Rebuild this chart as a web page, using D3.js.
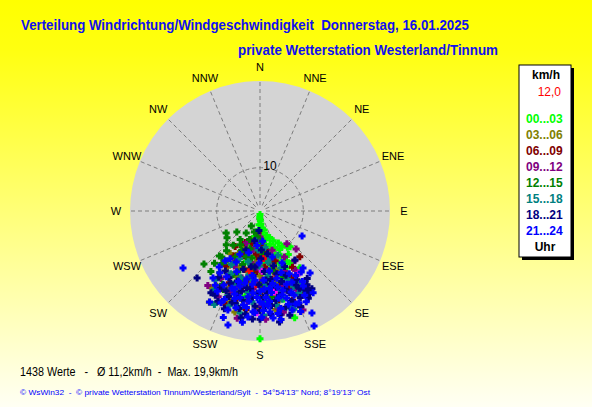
<!DOCTYPE html>
<html>
<head>
<meta charset="utf-8">
<script src="https://cdn.jsdelivr.net/npm/d3@7"></script>
<style>
  html, body { margin: 0; padding: 0; }
  svg { display: block; font-family: "Liberation Sans", Arial, sans-serif; }
</style>
</head>
<body>
<div id="chart"></div>
<script>
// direction labels, clockwise from north
const directions = ["N", "NNE", "NE", "ENE", "E", "ESE", "SE", "SSE",
  "S", "SSW", "SW", "WSW", "W", "WNW", "NW", "NNW"];
const ringValues = [10];
const hourLabels = ["00...03", "03...06", "06...09", "09...12", "12...15", "15...18", "18...21", "21...24"];
const hourColors = ["#00ff00", "#808000", "#800000", "#800080", "#008000", "#008080", "#000080", "#0000ff"];

// [direction in degrees, radial value], one array per hour class
const h00_03 = [[180,0.8],[182,1.5],[178,2.2],[176,3],[184,3.2],[172,4],[168,4.5],[188,4.8],[175,5.5],[165,5.8],
  [160,6.5],[170,6.8],[182,7],[156,7.5],[163,8],[150,8.5],[158,9],[148,9.6],[153,10],[143,10.5],[140,10.8],
  [167,10.2],[176,9],[186,8.5],[192,6],[196,8],[155,11.5],[147,12],[160,12.8],[170,13.5],[150,14],[162,15.5],
  [175,16],[185,14],[195,12],[200,16],[158,18],[170,19],[190,20],[180,29.5],[162,25.9],[157,19],[145,16],
  [165,21],[200,10],[205,13],[178,12],[171,8],[179,6],[166,9.5],[173,11],[185,10.5],[190,12.5],[152,13],
  [165,12],[180,10],[188,15],[168,17],[155,14.5],[183,5],[161,10.8],[174,7.5]];
const h03_06 = [[212,20.9],[209,24.1],[205,17],[200,14],[196,11],[190,9],[185,12],[180,15],[175,18],[170,20],
  [195,19],[210,15],[215,12],[203,9],[198,22],[188,17],[165,14],[160,19],[178,21],[192,14],[207,11],[182,23],
  [186,20],[176,13],[167,17],[202,19],[194,24],[171,23],[184,8],[210,20],[199,16],[160,23],[178,6.5],[191,7]];
const h06_09 = [[215,10],[210,12],[205,8],[200,11],[195,14],[190,16],[185,10],[175,13],[170,16],[165,18],
  [160,22],[155,17],[150,15],[180,19],[195,21],[203,18],[212,15],[188,23],[172,9],[163,12],[199,7],[183,14],
  [168,21],[157,24],[207,20],[139,14],[178,18],[186,13],[193,18],[200,23],[166,15],[159,19],[153,21],[174,21],
  [181,11],[192,9],[206,13],[170,12],[185,5],[195,7.5],[175,8],[168,11]];
const h09_12 = [[136.5,12.1],[140.7,9.8],[156.5,24.9],[169.5,22.8],[192,25.3],[145,14],[150,17],[155,20],
  [160,23],[165,15],[175,11],[185,18],[195,16],[205,14],[210,18],[215,21],[170,19],[180,22],[148,21],[200,20],
  [190,12],[178,16],[162,18],[152,12],[183,13],[172,14],[158,15],[198,18],[206,22],[188,21],[167,24],[177,25],
  [149,16],[195,10],[203,8],[180,6],[190,9],[163,9.5]];
const h12_15 = [[226.6,17.8],[220,12],[218,10],[215,8],[212,6],[210,9],[208,12],[222,14],[216,15],[205,10],
  [200,7],[195,9],[190,11],[213,17],[219,18],[198,13],[185,8],[175,10],[168,14],[160,16],[203,16],[207,19],
  [225,11],[210,4],[195,5],[180,17],[172,20],[155,19],[228,7.2],[231,9.8],[237,9.3],[219.6,13.8],
  [200,15],[193,17],[187,13],[178,14],[205,20],[197,11],[214,14],[221,16],[186,6],[178,7]];
const h15_18 = [[200,18],[195,20],[190,15],[185,21],[180,13],[175,17],[170,22],[165,19],[160,14],[155,21],
  [150,19],[205,16],[210,21],[198,23],[188,19],[178,24],[168,11],[183,9],[193,12],[158,17],[203,12],[173,15],
  [163,23],[213,19],[206,24],[193,22.7],[186,16],[176,21],[166,21],[156,19],[196,16],[201,21],[181,19],
  [171,12],[161,24],[191,24],[208,14],[151,21],[188,7],[172,8.5],[158,11]];
const h18_21 = [[223.2,21.2],[148.7,21.3],[150.6,20.7],[146.3,21.6],[147.5,20.2],[149,22.2],[144.5,13.9],
  [169.1,24.4],[200,21],[195,22],[190,18],[185,20],[180,23],[175,19],[170,21],[165,23],[160,20],[155,22],
  [152,18],[158,16],[163,17],[168,18],[173,22],[178,20],[183,22],[188,24],[193,19],[198,17],[203,20],[208,22],
  [212,18],[205,23],[210,16],[176,14],[186,15],[196,14],[166,13],[156,14],[181,17],[171,16],[191,21],[161,22],
  [151,23],[184,25],[174,24],[164,25],[154,19],[179,11],[189,13],[153,20],[157,24],[162,19],[167,20],[172,17],
  [177,22],[182,19],[187,18],[192,23],[197,22],[202,18],[207,20],[211,22],[200,24],[190,25],[180,25],[170,26],
  [160,22.5],[150,21.8],[145,19],[185,13],[175,16],[165,15],[195,20],[205,17],[190,7],[178,9],[200,9.5],
  [170,10],[183,4.5]];
const h21_24 = [[233.5,22.1],[215,18.9],[195.7,27.3],[186.5,24.6],[184,23.3],[174.3,23.4],[173,24.9],
  [153,26.4],[154.8,29.3],[157,23],[141.1,18.4],[143,16.5],[120.8,11.3],[200,19],[195,18],[190,22],[185,19],
  [180,21],[175,22],[170,17],[165,20],[160,18],[155,16],[150,20],[146,17],[152,22],[158,21],[163,21],[168,23],
  [172,19],[177,18],[182,20],[187,21],[192,17],[197,20],[202,22],[207,17],[212,13],[198,24],[188,20],[178,23],
  [162,24],[166,16],[176,20],[186,17],[196,21],[171,14],[181,12],[191,16],[201,15],[156,18],[161,15],[206,19],
  [211,20],[216,16],[180,18.5],[170,24],[184,16],[194,23],[164,19],[174,21],[159,23],[149,19],
  [153,23.5],[158,25],[163,22.5],[168,20.5],[173,18],[178,21.5],[183,23.5],[188,22.5],[193,20.5],[198,19],
  [203,23],[208,21],[213,17],[209,24],[199,26],[189,26],[179,24.5],[169,25.5],[159,20],[147,22.5],[151,17],
  [157,13],[167,18],[177,16],[187,15],[197,17],[205,13],[215,14],[185,8],[195,10],[175,7],[205,11],[165,11]];
// a few odd coloured points in the cloud
const extraMagenta = [[181.7,23.5],[178,13.9],[147.8,16.9],[170,19]];
const extraRed = [[190,14],[183,17],[176,11]];

const hourSeries = [h00_03, h03_06, h06_09, h09_12, h12_15, h15_18, h18_21, h21_24];

const W = 592, H = 407;
const cx = 260, cy = 211, R = 130;

const svg = d3.select("#chart").append("svg")
  .attr("width", W).attr("height", H);

const defs = svg.append("defs");
const grad = defs.append("linearGradient")
  .attr("id", "bg").attr("x1", 0).attr("y1", 0).attr("x2", 0).attr("y2", 1);
grad.append("stop").attr("offset", "0%").attr("stop-color", "#ffff00");
grad.append("stop").attr("offset", "12%").attr("stop-color", "#ffff10");
grad.append("stop").attr("offset", "100%").attr("stop-color", "#fffff4");

svg.append("rect").attr("width", W).attr("height", H).attr("fill", "url(#bg)");

// titles
svg.append("text")
  .attr("x", 21).attr("y", 30)
  .attr("fill", "#1010ee").attr("font-size", 14).attr("font-weight", "bold")
  .attr("textLength", 448).attr("lengthAdjust", "spacingAndGlyphs")
  .attr("xml:space", "preserve")
  .text("Verteilung Windrichtung/Windgeschwindigkeit  Donnerstag, 16.01.2025");
svg.append("text")
  .attr("x", 238).attr("y", 55)
  .attr("fill", "#1010ee").attr("font-size", 14).attr("font-weight", "bold")
  .attr("textLength", 260).attr("lengthAdjust", "spacingAndGlyphs")
  .text("private Wetterstation Westerland/Tinnum");

const r = d3.scaleLinear().domain([0, 30]).range([0, R]);
const ang = (deg) => deg * Math.PI / 180;

const g = svg.append("g").attr("transform", `translate(${cx},${cy})`);

g.append("circle").attr("r", R).attr("fill", "#d4d4d4");

// rings
g.selectAll(".ring").data(ringValues).join("circle")
  .attr("class", "ring")
  .attr("r", (d) => r(d))
  .attr("fill", "none").attr("stroke", "#7c7c7c")
  .attr("stroke-width", 1).attr("stroke-dasharray", "4,3");

// spokes
g.selectAll(".spoke").data(directions).join("line")
  .attr("class", "spoke")
  .attr("x1", (d, i) => d3.pointRadial(ang(i * 22.5), 6)[0])
  .attr("y1", (d, i) => d3.pointRadial(ang(i * 22.5), 6)[1])
  .attr("x2", (d, i) => d3.pointRadial(ang(i * 22.5), R)[0])
  .attr("y2", (d, i) => d3.pointRadial(ang(i * 22.5), R)[1])
  .attr("stroke", "#7c7c7c").attr("stroke-width", 1).attr("stroke-dasharray", "4,3");

g.selectAll(".ringlabel").data(ringValues).join("text")
  .attr("class", "ringlabel")
  .attr("x", 10).attr("y", (d) => -r(d) + 2)
  .attr("text-anchor", "middle")
  .attr("font-size", 12).attr("fill", "#000")
  .text((d) => d);

g.selectAll(".dirlabel").data(directions).join("text")
  .attr("class", "dirlabel")
  .attr("x", (d, i) => d3.pointRadial(ang(i * 22.5), 144)[0])
  .attr("y", (d, i) => d3.pointRadial(ang(i * 22.5), 144)[1] + 4)
  .attr("text-anchor", "middle")
  .attr("font-size", 11).attr("fill", "#000")
  .text((d) => d);

// points: chunky plus marker, 7px across
const marker = "M-1.5,-3.5h3v2h2v3h-2v2h-3v-2h-2v-3h2z";
const plot = (data, color) => {
  g.append("g").selectAll("path").data(data).join("path")
    .attr("d", marker)
    .attr("transform", (d) => {
      const [x, y] = d3.pointRadial(ang(d[0]), r(d[1]));
      return `translate(${x},${y})`;
    })
    .attr("fill", color);
};
hourSeries.forEach((s, i) => {
  plot(s, hourColors[i]);
  if (i === 5) { plot(extraMagenta, "#ff00ff"); plot(extraRed, "#ff0000"); }
});

// legend
const lx = 519, ly = 65, lw = 52, lh = 192;
svg.append("rect").attr("x", lx + 3).attr("y", ly + 3).attr("width", lw).attr("height", lh).attr("fill", "#000");
svg.append("rect").attr("x", lx).attr("y", ly).attr("width", lw).attr("height", lh)
  .attr("fill", "#fff").attr("stroke", "#000").attr("stroke-width", 1);

svg.append("text").attr("x", lx + lw / 2 + 1).attr("y", ly + 14)
  .attr("text-anchor", "middle").attr("font-size", 12).attr("font-weight", "bold").text("km/h");
svg.append("text").attr("x", lx + 42).attr("y", ly + 31)
  .attr("text-anchor", "end").attr("font-size", 12).attr("fill", "#ff0000").text("12,0");
svg.append("g").selectAll("text").data(hourLabels).join("text")
  .attr("x", lx + 7).attr("y", (d, i) => ly + 58 + i * 16)
  .attr("font-size", 12).attr("font-weight", "bold")
  .attr("fill", (d, i) => hourColors[i])
  .text((d) => d);
svg.append("text").attr("x", lx + lw / 2).attr("y", ly + 186)
  .attr("text-anchor", "middle").attr("font-size", 12).attr("font-weight", "bold").text("Uhr");

// footer
svg.append("text").attr("x", 20).attr("y", 376)
  .attr("font-size", 12).attr("fill", "#000")
  .attr("textLength", 218).attr("lengthAdjust", "spacingAndGlyphs")
  .attr("xml:space", "preserve")
  .text("1438 Werte   -   Ø 11,2km/h  -  Max. 19,9km/h");
svg.append("text").attr("x", 20).attr("y", 395)
  .attr("font-size", 8).attr("fill", "#0000ff")
  .attr("textLength", 350).attr("lengthAdjust", "spacingAndGlyphs")
  .attr("xml:space", "preserve")
  .text("© WsWin32  -  © private Wetterstation Tinnum/Westerland/Sylt  -  54°54'13'' Nord; 8°19'13'' Ost");
</script>
</body>
</html>
